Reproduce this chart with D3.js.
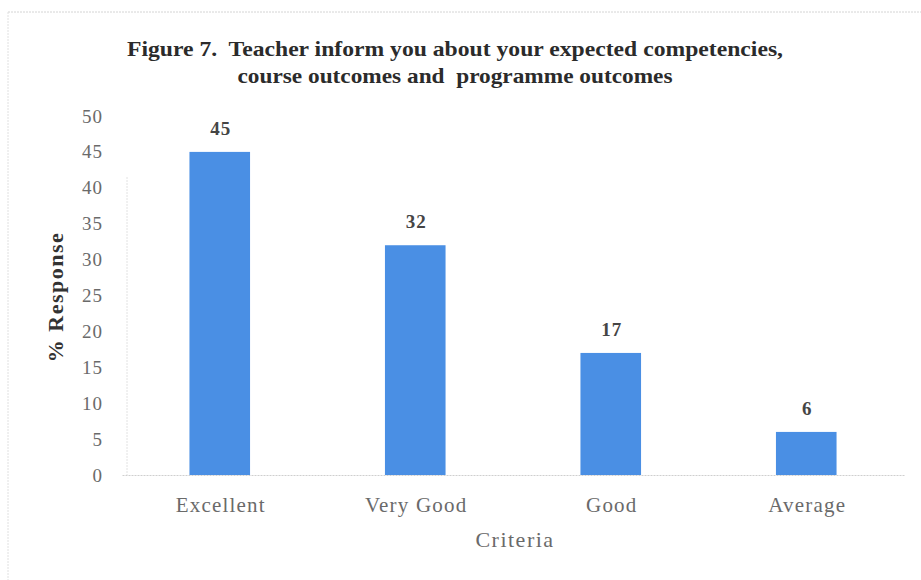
<!DOCTYPE html>
<html>
<head>
<meta charset="utf-8">
<script src="https://cdn.jsdelivr.net/npm/d3@7"></script>
<style>
    body { margin: 0; background: #fff; }
    text { font-family: "Liberation Serif", "Times New Roman", serif; }
</style>
</head>
<body>
<svg id="chart" width="921" height="580"></svg>
<script>
var categories = ["Excellent", "Very Good", "Good", "Average"];
var values = [45, 32, 17, 6];
var yTicks = [0, 5, 10, 15, 20, 25, 30, 35, 40, 45, 50];
var titleLines = [
    "Figure 7.  Teacher inform you about your expected competencies,",
    "course outcomes and  programme outcomes"
];

var w = 921, h = 580;
var svg = d3.select("#chart");

// faint frame of the scanned figure
svg.append("line")
    .attr("x1", 8).attr("x2", w).attr("y1", 12).attr("y2", 12)
    .attr("stroke", "#d4d4d4").attr("stroke-dasharray", "2,1");
svg.append("line")
    .attr("x1", 8).attr("x2", 8).attr("y1", 12).attr("y2", h)
    .attr("stroke", "#e0e0e0").attr("stroke-dasharray", "2,1");

var xScale = d3.scaleBand()
    .domain(categories)
    .range([122, 904])
    .padding(0);

var yScale = d3.scaleLinear()
    .domain([0, 50])
    .range([475, 116]);

var barWidth = xScale.bandwidth() * 0.31;

// title
svg.append("text")
    .attr("x", 455).attr("y", 56)
    .attr("text-anchor", "middle")
    .attr("font-size", "22px")
    .attr("font-weight", "bold")
    .attr("fill", "#2b2b2b")
    .attr("textLength", 656)
    .attr("lengthAdjust", "spacingAndGlyphs")
    .style("white-space", "pre")
    .text(titleLines[0]);
svg.append("text")
    .attr("x", 455).attr("y", 83)
    .attr("text-anchor", "middle")
    .attr("font-size", "22px")
    .attr("font-weight", "bold")
    .attr("fill", "#2b2b2b")
    .attr("textLength", 435)
    .attr("lengthAdjust", "spacingAndGlyphs")
    .style("white-space", "pre")
    .text(titleLines[1]);

// y axis (labels only, faint line)
var yAxis = d3.axisLeft(yScale)
    .tickValues(yTicks)
    .tickSize(0)
    .tickPadding(0);

var yg = svg.append("g")
    .attr("transform", "translate(103,0)")
    .call(yAxis);
yg.select(".domain").remove();
yg.selectAll("text")
    .attr("font-family", "Liberation Serif, serif")
    .attr("font-size", "19px")
    .attr("letter-spacing", "1px")
    .attr("fill", "#6a6a6a");

svg.append("line")
    .attr("x1", 127).attr("x2", 127)
    .attr("y1", 177).attr("y2", yScale(0))
    .attr("stroke", "#e2e2e2").attr("stroke-dasharray", "2,1");

// bars
var groups = svg.selectAll("g.bar")
    .data(values)
    .enter()
    .append("g")
    .attr("class", "bar")
    .attr("transform", function (d, i) {
        return "translate(" + (xScale(categories[i]) + xScale.bandwidth() / 2) + ",0)";
    });

groups.append("rect")
    .attr("x", -barWidth / 2)
    .attr("y", function (d) { return yScale(d); })
    .attr("width", barWidth)
    .attr("height", function (d) { return yScale(0) - yScale(d); })
    .attr("fill", "#4a8fe4");

groups.append("text")
    .text(function (d) { return d; })
    .attr("text-anchor", "middle")
    .attr("x", 1)
    .attr("y", function (d) { return yScale(d) - 17; })
    .attr("font-size", "19px")
    .attr("font-weight", "bold")
    .attr("letter-spacing", "1px")
    .attr("fill", "#454545");

// x axis
var xAxis = d3.axisBottom(xScale)
    .tickSize(0)
    .tickPadding(0);

var xg = svg.append("g")
    .attr("transform", "translate(0," + yScale(0) + ")")
    .call(xAxis);
xg.select(".domain")
    .attr("stroke", "#cfcfcf")
    .attr("stroke-dasharray", "2,1");
xg.selectAll("text")
    .attr("dy", null)
    .attr("y", 37)
    .attr("x", 1)
    .attr("font-family", "Liberation Serif, serif")
    .attr("font-size", "21px")
    .attr("letter-spacing", "1.2px")
    .attr("fill", "#6a6a6a");

// axis titles
svg.append("text")
    .attr("transform", "translate(63,297) rotate(-90)")
    .attr("text-anchor", "middle")
    .attr("font-size", "22px")
    .attr("font-weight", "bold")
    .attr("letter-spacing", "1.5px")
    .attr("fill", "#333")
    .text("% Response");

svg.append("text")
    .attr("x", 515).attr("y", 547)
    .attr("text-anchor", "middle")
    .attr("font-size", "22px")
    .attr("letter-spacing", "1.5px")
    .attr("fill", "#6a6a6a")
    .text("Criteria");
</script>
</body>
</html>
